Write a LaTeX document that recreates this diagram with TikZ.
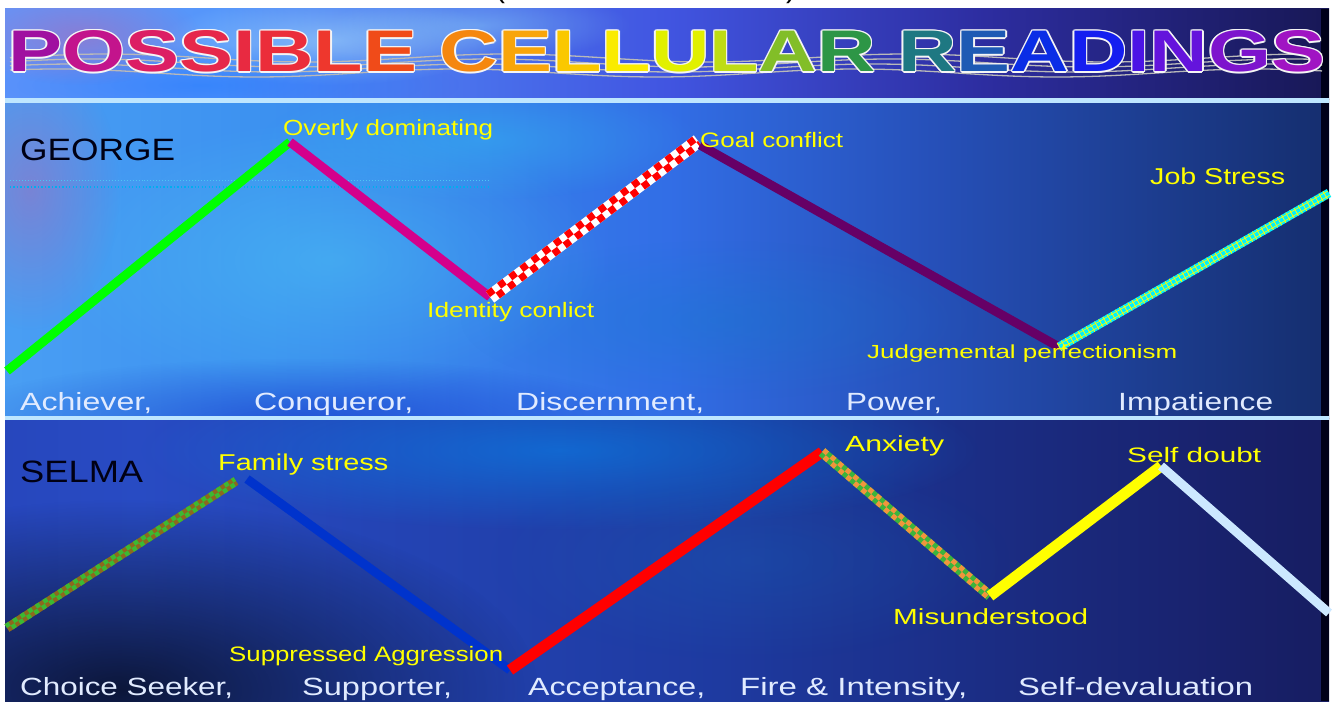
\documentclass[tikz,border=0pt]{standalone}
\usepackage{fontspec}
\setmainfont{Liberation Sans}
\usepackage{graphicx}
\usetikzlibrary{calc,fadings}
\tikzfading[name=softglow, inner color=transparent!0, outer color=transparent!100]
% background colours
\definecolor{tA}{RGB}{150,125,245}\definecolor{tB}{RGB}{115,150,250}\definecolor{tC}{RGB}{85,150,250}
\definecolor{tD}{RGB}{65,85,225}\definecolor{tE}{RGB}{45,45,160}\definecolor{tF}{RGB}{22,22,80}
\definecolor{tG}{RGB}{10,10,35}\definecolor{tH}{RGB}{3,3,10}
\definecolor{mA}{RGB}{95,115,240}\definecolor{mB}{RGB}{80,165,245}\definecolor{mC}{RGB}{60,145,240}
\definecolor{mD}{RGB}{50,110,230}\definecolor{mE}{RGB}{38,80,185}\definecolor{mF}{RGB}{22,48,115}
\definecolor{mG}{RGB}{12,18,60}\definecolor{mH}{RGB}{3,3,12}
\definecolor{bA}{RGB}{35,50,160}\definecolor{bB}{RGB}{40,75,195}\definecolor{bC}{RGB}{30,58,160}
\definecolor{bD}{RGB}{24,32,105}\definecolor{bE}{RGB}{14,14,55}\definecolor{bF}{RGB}{5,5,15}
\pgfdeclarehorizontalshading{topbg}{100bp}{color(0bp)=(tA); color(15bp)=(tB); color(33bp)=(tC); color(50bp)=(tD); color(62bp)=(tE); color(76bp)=(tF); color(92bp)=(tG); color(100bp)=(tH)}
\pgfdeclarehorizontalshading{midbg}{100bp}{color(0bp)=(mA); color(20bp)=(mB); color(35bp)=(mC); color(50bp)=(mD); color(60bp)=(mE); color(74bp)=(mF); color(90bp)=(mG); color(100bp)=(mH)}
\pgfdeclarehorizontalshading{botbg}{100bp}{color(0bp)=(bA); color(30bp)=(bB); color(52bp)=(bC); color(72bp)=(bD); color(92bp)=(bE); color(100bp)=(bF)}
% line colours
\definecolor{lgreen}{RGB}{0,255,0}\definecolor{lmag}{RGB}{212,0,140}\definecolor{lpurp}{RGB}{102,0,102}
\definecolor{lcyan}{RGB}{0,240,255}\definecolor{lolive}{RGB}{140,105,30}\definecolor{ldotg}{RGB}{60,185,50}
\definecolor{lblue}{RGB}{0,51,204}\definecolor{lred}{RGB}{255,0,0}\definecolor{lgo}{RGB}{60,180,60}
\definecolor{lorange}{RGB}{240,150,60}\definecolor{lyel}{RGB}{255,255,0}\definecolor{lpale}{RGB}{204,232,255}
\definecolor{lbw}{RGB}{225,235,255}\definecolor{sepc}{RGB}{190,230,255}
% title colours
\definecolor{c1}{RGB}{160,16,160}\definecolor{c2}{RGB}{195,20,140}\definecolor{c3}{RGB}{220,30,100}
\definecolor{c4}{RGB}{230,40,75}\definecolor{c5}{RGB}{232,42,65}\definecolor{c6}{RGB}{235,45,58}
\definecolor{c7}{RGB}{238,55,45}\definecolor{c8}{RGB}{240,75,25}\definecolor{c9}{RGB}{245,135,15}
\definecolor{c10}{RGB}{248,165,10}\definecolor{c11}{RGB}{250,200,0}\definecolor{c12}{RGB}{250,235,0}
\definecolor{c13}{RGB}{225,240,0}\definecolor{c14}{RGB}{190,220,20}\definecolor{c15}{RGB}{130,190,40}
\definecolor{c16}{RGB}{45,150,70}\definecolor{c17}{RGB}{30,120,130}\definecolor{c18}{RGB}{30,90,180}
\definecolor{c19}{RGB}{10,45,230}\definecolor{c20}{RGB}{20,30,240}\definecolor{c21}{RGB}{75,20,230}
\definecolor{c22}{RGB}{100,20,220}\definecolor{c23}{RGB}{125,20,205}\definecolor{c24}{RGB}{160,20,195}
\newif\ifwo
\newcommand\TL[2]{\ifwo\textcolor{white!92!gray}{#2}\else\textcolor{#1}{#2}\fi}
\newcommand\titlestr{\TL{c1}{P}\TL{c2}{O}\TL{c3}{S}\TL{c4}{S}\TL{c5}{I}\TL{c6}{B}\TL{c7}{L}\TL{c8}{E} \TL{c9}{C}\TL{c10}{E}\TL{c11}{L}\TL{c12}{L}\TL{c13}{U}\TL{c14}{L}\TL{c15}{A}\TL{c16}{R} \TL{c17}{R}\TL{c18}{E}\TL{c19}{A}\TL{c20}{D}\TL{c21}{I}\TL{c22}{N}\TL{c23}{G}\TL{c24}{S}}
\newcommand\titlebox{\resizebox{1317bp}{41bp}{\fontsize{40}{40}\selectfont\bfseries\titlestr}}
\newcommand\lbx[3]{\resizebox{#1bp}{\height}{\fontsize{#2}{#2}\selectfont #3}}
% checkered segment: from, to, base, dot, width, cell, offset
\newcommand\chk[7]{%
  \draw[line width=#5pt, #3] (#1) -- (#2);
  \draw[line width=#6pt, #4, dash pattern=on #6pt off #6pt] ($(#1)!#7!90:(#2)$) -- ($(#2)!#7!-90:(#1)$);
  \draw[line width=#6pt, #4, dash pattern=on #6pt off #6pt, dash phase=#6pt] ($(#1)!#7!-90:(#2)$) -- ($(#2)!#7!90:(#1)$);}
\tikzset{
  ylab/.style={anchor=base west, inner sep=0pt, text=lyel},
  wlab/.style={anchor=base west, inner sep=0pt, text=lbw},
  nlab/.style={anchor=base west, inner sep=0pt, text=black!92!blue},
  seg/.style={line width=9pt, line cap=butt},
  glow/.style={path fading=softglow}
}
\begin{document}
\begin{tikzpicture}[x=1bp,y=-1bp]
\useasboundingbox (0,0) rectangle (1336,701);
\fill[white] (0,0) rectangle (1336,701);
% parentheses cut off at top
\node[anchor=base, inner sep=0pt, font=\fontsize{30}{30}\selectfont] (lpar) at (500,-2) {(};
\node[anchor=base, inner sep=0pt, font=\fontsize{30}{30}\selectfont] (rpar) at (791,-2) {)};
% panels
\shade[shading=topbg] (5,9) rectangle (1329,100);
\shade[shading=midbg] (5,100) rectangle (1329,418);
\shade[shading=botbg] (5,418) rectangle (1329,701);
\begin{scope}
  \clip (5,9) rectangle (1329,100);
  \fill[white!70!cyan, opacity=.5, glow] (330,40) ellipse (170 and 45);
  \fill[white!60!cyan, opacity=.4, glow] (480,25) ellipse (150 and 35);
  \fill[blue!60!cyan, opacity=.35, glow] (200,85) ellipse (260 and 40);
  \fill[violet!60!white, opacity=.5, glow] (80,35) ellipse (120 and 50);
\end{scope}
\begin{scope}
  \clip (5,100) rectangle (1329,418);
  \fill[cyan!70!white, opacity=.5, glow] (330,260) ellipse (280 and 140);
  \fill[cyan!80!white, opacity=.45, glow] (480,140) ellipse (220 and 60);
  \fill[violet!60!white, opacity=.45, glow] (30,190) ellipse (90 and 140);
  \fill[cyan!60!blue, opacity=.35, glow] (720,320) ellipse (260 and 80);
  \fill[blue!70!black, opacity=.4, glow] (300,418) ellipse (350 and 60);
\end{scope}
\begin{scope}
  \clip (5,418) rectangle (1329,701);
  \fill[blue!40!cyan, opacity=.45, glow] (560,450) ellipse (420 and 80);
  \fill[black, opacity=.7, glow] (120,690) ellipse (420 and 190);
  \fill[cyan!50!blue, opacity=.25, glow] (750,560) ellipse (260 and 100);
\end{scope}
\fill[black!90!blue] (1321,9) rectangle (1329,701);
% separators
\fill[sepc] (5,98) rectangle (1329,103);
\fill[sepc] (5,416) rectangle (1329,420);
% title
\foreach \yy in {58,63,68,73} {
  \draw[gray!55, line width=1.3pt] plot[domain=10:1322, samples=120] (\x, {\yy+4*sin(0.9*\x+3*\yy)});
}
\foreach \dx/\dy in {-1.4/0,1.4/0,0/-1.4,0/1.4,-1/-1,1/1,-1/1,1/-1} {
  \node[anchor=base west, inner sep=0pt] at ({8+\dx},{72+\dy}) {\wotrue\titlebox};
}
\node[anchor=base west, inner sep=0pt] (title) at (8,72) {\wofalse\titlebox};
% dotted cyan rule
\draw[cyan!70!white, line width=1pt, dash pattern=on 1pt off 2pt] (10,180) -- (489,180);
\draw[cyan, line width=2.5pt, dash pattern=on 1.2pt off 2.3pt] (10,187) -- (489,187);
% George vertices
\coordinate (g0) at (7,371);
\coordinate (g1) at (290,142);
\coordinate (g2) at (490,297);
\coordinate (g3) at (698,141);
\coordinate (g4) at (1059,347);
\coordinate (g5) at (1329,193);
\draw[seg, lgreen] (g0) -- (g1);
\draw[seg, lmag] (g1) -- (g2);
\chk{g2}{g3}{white}{lred}{14}{7}{3.5pt}
\draw[seg, lpurp] ($(g3)+(2,4)$) -- (g4);
\draw[seg, lcyan] (g4) -- (g5);
\draw[line width=9pt, lyel, dash pattern=on 0.8pt off 4pt] (g4) -- (g5);
\draw[line width=0.6pt, lyel] ($(g4)!2.3pt!90:(g5)$) -- ($(g5)!2.3pt!-90:(g4)$);
\draw[line width=0.6pt, lyel] ($(g4)!2.3pt!-90:(g5)$) -- ($(g5)!2.3pt!90:(g4)$);
% Selma vertices
\coordinate (s0) at (7,628);
\coordinate (s1) at (236,481);
\coordinate (s1b) at (247,479);
\coordinate (s2) at (510,670);
\coordinate (s3) at (822,452);
\coordinate (s4) at (990,596);
\coordinate (s5) at (1161,466);
\coordinate (s6) at (1329,613);
\chk{s0}{s1}{lolive}{ldotg}{9}{4.5}{2.25pt}
\draw[seg, lblue] (s1b) -- (s2);
\draw[seg, lred, line width=11pt] (s2) -- (s3);
\chk{s3}{s4}{lgo}{lorange}{10}{5}{2.5pt}
\draw[seg, lyel, line width=11pt] (s4) -- (s5);
\draw[seg, lpale] (s5) -- (s6);
% George labels
\node[nlab] (george) at (20,160) {\lbx{155}{31}{GEORGE}};
\node[ylab] (ovd) at (283,135) {\lbx{210}{22}{Overly dominating}};
\node[ylab] (idc) at (427,317) {\lbx{167}{21}{Identity conlict}};
\node[ylab] (gc) at (700,147) {\lbx{143}{21}{Goal conflict}};
\node[ylab] (js) at (1150,184) {\lbx{135}{23}{Job Stress}};
\node[ylab] (jp) at (867,358) {\lbx{310}{19}{Judgemental perfectionism}};
\node[wlab] (w1) at (20,410) {\lbx{132}{25}{Achiever,}};
\node[wlab] (w2) at (254,410) {\lbx{159}{25}{Conqueror,}};
\node[wlab] (w3) at (516,410) {\lbx{188}{25}{Discernment,}};
\node[wlab] (w4) at (846,410) {\lbx{96}{25}{Power,}};
\node[wlab] (w5) at (1118,410) {\lbx{155}{25}{Impatience}};
% Selma labels
\node[nlab] (selma) at (20,482) {\lbx{123}{31}{SELMA}};
\node[ylab] (fs) at (218,470) {\lbx{170}{23}{Family stress}};
\node[ylab] (sa) at (229,661) {\lbx{274}{21}{Suppressed Aggression}};
\node[ylab] (anx) at (845,451) {\lbx{99}{22}{Anxiety}};
\node[ylab] (sd) at (1127,462) {\lbx{134}{21}{Self doubt}};
\node[ylab] (mis) at (893,624) {\lbx{195}{22}{Misunderstood}};
\node[wlab] (v1) at (20,695) {\lbx{213}{25}{Choice Seeker,}};
\node[wlab] (v2) at (302,695) {\lbx{150}{25}{Supporter,}};
\node[wlab] (v3) at (528,695) {\lbx{177}{25}{Acceptance,}};
\node[wlab] (v4) at (740,695) {\lbx{227}{25}{Fire \& Intensity,}};
\node[wlab] (v5) at (1018,695) {\lbx{235}{25}{Self-devaluation}};
\end{tikzpicture}
\end{document}
